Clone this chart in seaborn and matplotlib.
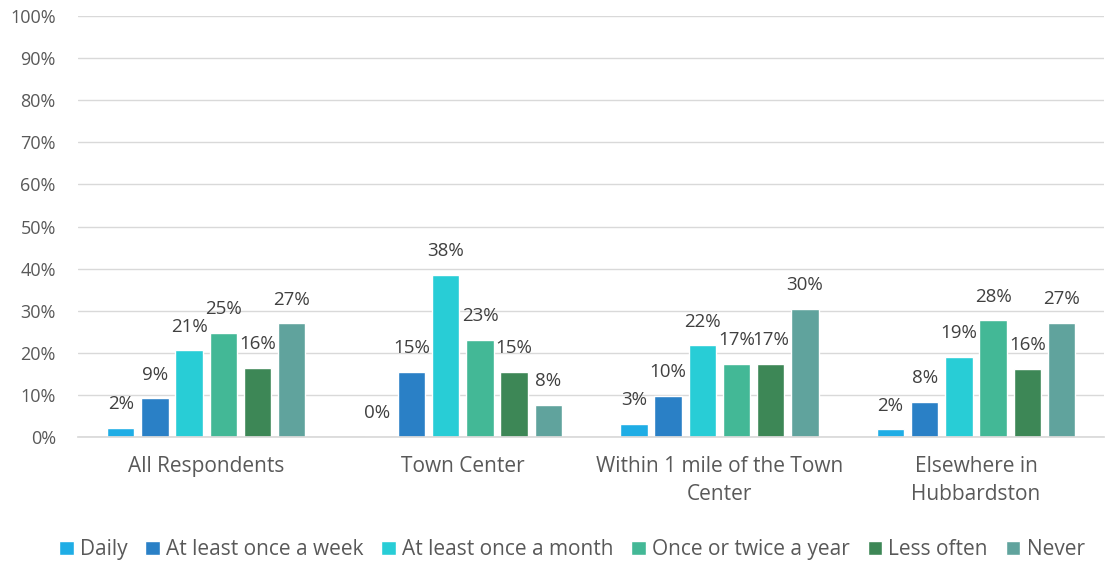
import numpy as np
import pandas as pd
import matplotlib
matplotlib.use('Agg')
from matplotlib import pyplot as plt
from matplotlib.patches import Patch
import seaborn as sns

# data (share of respondents, %)
groups = ['All Respondents', 'Town Center', 'Within 1 mile of the Town\nCenter', 'Elsewhere in\nHubbardston']
freqs = ['Daily', 'At least once a week', 'At least once a month', 'Once or twice a year', 'Less often', 'Never']
daily = [2.2, 0.0, 3.2, 1.8]
weekly = [9.2, 15.4, 9.8, 8.4]
monthly = [20.6, 38.5, 21.8, 19.0]
yearly = [24.8, 23.1, 17.4, 27.7]
less_often = [16.4, 15.4, 17.4, 16.2]
never = [27.0, 7.7, 30.4, 27.2]

colors = ['#1FADE5', '#2A80C6', '#28CDD6', '#43B896', '#3D8756', '#60A39D']

series = [daily, weekly, monthly, yearly, less_often, never]
df = pd.DataFrame([
    {'group': g, 'freq': f, 'value': v}
    for f, vals in zip(freqs, series)
    for g, v in zip(groups, vals)
])

sns.set_theme(style='white')
plt.rcParams['font.family'] = ['Open Sans', 'DejaVu Sans']

fig = plt.figure(figsize=(11.06, 5.65), dpi=100)
ax = fig.add_axes([0.0705, 0.2265, 0.928, 0.745])

sns.barplot(data=df, x='group', y='value', hue='freq', order=groups, hue_order=freqs,
            palette=colors, width=0.8, gap=0.2, saturation=1, legend=False, ax=ax)

# value labels
for container in ax.containers:
    for bar in container:
        h = bar.get_height()
        ax.annotate(f'{h:.0f}%', (bar.get_x() + bar.get_width() / 2, h),
                    xytext=(0, 13.5), textcoords='offset points',
                    ha='center', va='baseline', fontsize=13.5, color='#404040')

ax.set_ylim(0, 100)
ax.set_xlim(-0.5, 3.5)
ax.set_yticks(np.arange(0, 101, 10))
ax.set_yticklabels([f'{t}%' for t in range(0, 101, 10)])
ax.yaxis.grid(True, color='#D9D9D9', linewidth=1)
ax.set_axisbelow(True)
ax.tick_params(axis='both', length=0, labelcolor='#595959')
ax.tick_params(axis='x', pad=14, labelsize=15)
ax.tick_params(axis='y', pad=16, labelsize=13)
for lbl in ax.get_xticklabels():
    lbl.set_linespacing(1.4)
for s in ['top', 'right', 'left']:
    ax.spines[s].set_visible(False)
ax.spines['bottom'].set_color('#D9D9D9')
ax.set_xlabel('')
ax.set_ylabel('')

handles = [Patch(facecolor=c, label=f) for c, f in zip(colors, freqs)]
fig.legend(handles=handles, loc='center', bbox_to_anchor=(0.517, 0.027), ncol=6, frameon=False,
           fontsize=15, labelcolor='#595959', handlelength=0.7, handleheight=0.7,
           handletextpad=0.3, columnspacing=0.85, borderaxespad=0)

fig.savefig('out.png', dpi=100)
